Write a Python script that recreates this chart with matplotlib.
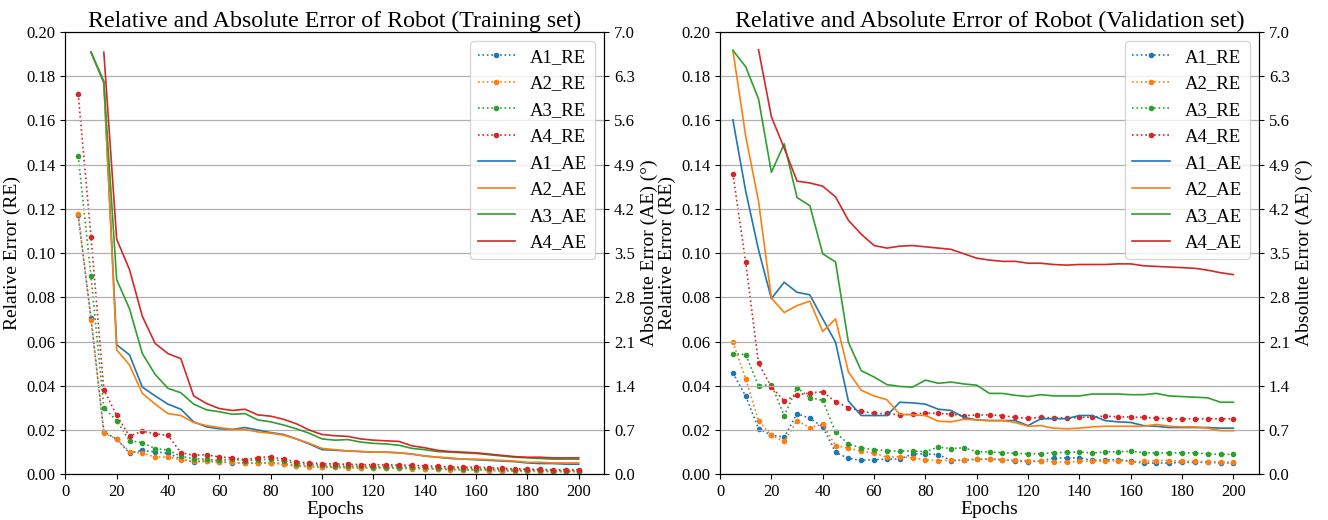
import numpy as np
import matplotlib
matplotlib.use("Agg")
import matplotlib.pyplot as plt

plt.rcParams['font.family'] = ['Liberation Serif', 'DejaVu Serif']

nan = np.nan
epochs = list(range(5, 201, 5))
names = ['A1', 'A2', 'A3', 'A4']
colors = ['#1f77b4', '#ff7f0e', '#2ca02c', '#d62728']

# ---- training set ----
train_re = {
    'A1': [0.1171, 0.0707, 0.0192, 0.0159, 0.0096, 0.0108, 0.0101, 0.0096, 0.0068, 0.0056,
           0.0059, 0.0056, 0.0052, 0.0051, 0.0050, 0.0052, 0.0048, 0.0038, 0.0037, 0.0033,
           0.0032, 0.0031, 0.0030, 0.0030, 0.0029, 0.0028, 0.0027, 0.0026, 0.0024, 0.0022,
           0.0021, 0.0020, 0.0019, 0.0017, 0.0016, 0.0015, 0.0015, 0.0014, 0.0014, 0.0014],
    'A2': [0.1178, 0.0699, 0.0188, 0.0159, 0.0102, 0.0096, 0.0078, 0.0078, 0.0066, 0.0060,
           0.0060, 0.0056, 0.0054, 0.0050, 0.0050, 0.0051, 0.0045, 0.0036, 0.0035, 0.0032,
           0.0031, 0.0030, 0.0029, 0.0029, 0.0028, 0.0027, 0.0026, 0.0025, 0.0023, 0.0021,
           0.0020, 0.0019, 0.0017, 0.0015, 0.0014, 0.0013, 0.0012, 0.0011, 0.0011, 0.0011],
    'A3': [0.1440, 0.0895, 0.0302, 0.0242, 0.0152, 0.0143, 0.0116, 0.0110, 0.0081, 0.0071,
           0.0068, 0.0063, 0.0068, 0.0062, 0.0066, 0.0068, 0.0060, 0.0048, 0.0045, 0.0040,
           0.0039, 0.0037, 0.0036, 0.0035, 0.0035, 0.0034, 0.0032, 0.0031, 0.0029, 0.0027,
           0.0026, 0.0025, 0.0024, 0.0022, 0.0020, 0.0019, 0.0018, 0.0017, 0.0017, 0.0017],
    'A4': [0.1720, 0.1075, 0.0383, 0.0266, 0.0173, 0.0195, 0.0183, 0.0176, 0.0098, 0.0086,
           0.0089, 0.0078, 0.0075, 0.0066, 0.0075, 0.0080, 0.0068, 0.0056, 0.0051, 0.0048,
           0.0047, 0.0045, 0.0044, 0.0043, 0.0043, 0.0042, 0.0040, 0.0039, 0.0036, 0.0033,
           0.0032, 0.0032, 0.0030, 0.0027, 0.0025, 0.0023, 0.0022, 0.0021, 0.0021, 0.0021],
}
train_ae = {
    'A1': [nan, 6.68, 6.22, 2.05, 1.89, 1.38, 1.24, 1.11, 1.03, 0.83,
           0.75, 0.72, 0.71, 0.74, 0.70, 0.66, 0.63, 0.56, 0.48, 0.39,
           0.38, 0.37, 0.36, 0.35, 0.35, 0.34, 0.32, 0.29, 0.27, 0.25,
           0.24, 0.23, 0.22, 0.21, 0.20, 0.18, 0.17, 0.17, 0.16, 0.16],
    'A2': [nan, 6.68, 6.19, 1.97, 1.73, 1.28, 1.11, 0.96, 0.93, 0.82,
           0.77, 0.74, 0.71, 0.71, 0.67, 0.65, 0.62, 0.56, 0.49, 0.41,
           0.39, 0.37, 0.36, 0.35, 0.35, 0.34, 0.32, 0.29, 0.27, 0.26,
           0.24, 0.24, 0.23, 0.22, 0.21, 0.19, 0.19, 0.18, 0.18, 0.18],
    'A3': [nan, 6.68, 6.20, 3.08, 2.62, 1.91, 1.58, 1.36, 1.29, 1.11,
           1.02, 0.99, 0.95, 0.96, 0.86, 0.83, 0.78, 0.72, 0.65, 0.56,
           0.54, 0.55, 0.51, 0.49, 0.48, 0.46, 0.41, 0.39, 0.36, 0.35,
           0.34, 0.33, 0.31, 0.29, 0.27, 0.26, 0.25, 0.24, 0.24, 0.24],
    'A4': [nan, nan, 6.68, 3.72, 3.24, 2.50, 2.07, 1.91, 1.83, 1.24,
           1.12, 1.04, 1.01, 1.03, 0.94, 0.92, 0.87, 0.80, 0.70, 0.63,
           0.61, 0.60, 0.56, 0.54, 0.53, 0.52, 0.45, 0.42, 0.38, 0.36,
           0.35, 0.34, 0.32, 0.30, 0.28, 0.27, 0.27, 0.26, 0.26, 0.26],
}

# ---- validation set ----
val_re = {
    'A1': [0.0459, 0.0353, 0.0206, 0.0177, 0.0168, 0.0274, 0.0253, 0.0215, 0.0099, 0.0072,
           0.0063, 0.0066, 0.0069, 0.0069, 0.0092, 0.0092, 0.0089, 0.0062, 0.0063, 0.0068,
           0.0068, 0.0066, 0.0060, 0.0057, 0.0060, 0.0074, 0.0074, 0.0074, 0.0063, 0.0065,
           0.0066, 0.0060, 0.0050, 0.0051, 0.0051, 0.0054, 0.0054, 0.0054, 0.0052, 0.0051],
    'A2': [0.0598, 0.0432, 0.0242, 0.0176, 0.0149, 0.0242, 0.0211, 0.0227, 0.0129, 0.0119,
           0.0104, 0.0096, 0.0077, 0.0080, 0.0075, 0.0065, 0.0062, 0.0063, 0.0066, 0.0069,
           0.0069, 0.0066, 0.0063, 0.0062, 0.0059, 0.0057, 0.0054, 0.0059, 0.0060, 0.0059,
           0.0062, 0.0057, 0.0059, 0.0062, 0.0062, 0.0060, 0.0059, 0.0056, 0.0056, 0.0054],
    'A3': [0.0546, 0.0541, 0.0400, 0.0406, 0.0265, 0.0392, 0.0346, 0.0335, 0.0189, 0.0137,
           0.0119, 0.0111, 0.0107, 0.0105, 0.0105, 0.0102, 0.0123, 0.0116, 0.0120, 0.0102,
           0.0101, 0.0098, 0.0095, 0.0093, 0.0093, 0.0098, 0.0099, 0.0101, 0.0096, 0.0101,
           0.0102, 0.0104, 0.0098, 0.0096, 0.0097, 0.0097, 0.0097, 0.0092, 0.0090, 0.0090],
    'A4': [0.1360, 0.0958, 0.0501, 0.0395, 0.0332, 0.0358, 0.0368, 0.0373, 0.0328, 0.0302,
           0.0286, 0.0275, 0.0275, 0.0268, 0.0272, 0.0277, 0.0275, 0.0272, 0.0265, 0.0268,
           0.0269, 0.0265, 0.0257, 0.0254, 0.0257, 0.0256, 0.0254, 0.0257, 0.0259, 0.0263,
           0.0260, 0.0259, 0.0257, 0.0254, 0.0251, 0.0251, 0.0251, 0.0251, 0.0251, 0.0251],
}
val_ae = {
    'A1': [5.61, 4.48, 3.55, 2.78, 3.04, 2.88, 2.84, 2.46, 2.09, 1.16,
           0.93, 0.93, 0.93, 1.14, 1.13, 1.11, 1.03, 1.01, 0.90, 0.86,
           0.85, 0.85, 0.85, 0.77, 0.88, 0.88, 0.88, 0.93, 0.93, 0.85,
           0.83, 0.82, 0.77, 0.76, 0.74, 0.74, 0.74, 0.74, 0.73, 0.73],
    'A2': [6.71, 5.35, 4.32, 2.79, 2.56, 2.67, 2.74, 2.26, 2.46, 1.62,
           1.33, 1.24, 1.18, 0.95, 0.94, 0.93, 0.84, 0.83, 0.87, 0.86,
           0.85, 0.85, 0.82, 0.76, 0.77, 0.73, 0.72, 0.73, 0.75, 0.76,
           0.76, 0.76, 0.76, 0.79, 0.76, 0.75, 0.75, 0.73, 0.69, 0.69],
    'A3': [6.71, 6.45, 5.94, 4.78, 5.23, 4.38, 4.25, 3.49, 3.36, 2.09,
           1.64, 1.54, 1.42, 1.39, 1.38, 1.49, 1.44, 1.46, 1.43, 1.41,
           1.28, 1.28, 1.25, 1.23, 1.26, 1.24, 1.24, 1.24, 1.27, 1.27,
           1.27, 1.26, 1.26, 1.28, 1.24, 1.23, 1.22, 1.21, 1.14, 1.14],
    'A4': [nan, nan, 6.72, 5.66, 5.16, 4.64, 4.61, 4.56, 4.39, 4.02,
           3.80, 3.62, 3.58, 3.61, 3.62, 3.60, 3.58, 3.56, 3.49, 3.42,
           3.39, 3.37, 3.37, 3.34, 3.34, 3.32, 3.31, 3.32, 3.32, 3.32,
           3.33, 3.33, 3.30, 3.29, 3.28, 3.27, 3.26, 3.23, 3.19, 3.16],
}

re_ticks = np.arange(0, 0.2001, 0.02)
ae_ticks = np.arange(0, 7.001, 0.7)

fig = plt.figure(figsize=(13.28, 5.2), dpi=100)


def draw_panel(rect, re_data, ae_data, title):
    ax = fig.add_axes(rect)
    ax2 = ax.twinx()
    handles = []
    for n, c in zip(names, colors):
        h, = ax.plot(epochs, re_data[n], ':', color=c, marker='o', markersize=3,
                     linewidth=1.2, label=n + '_RE')
        handles.append(h)
    for n, c in zip(names, colors):
        h, = ax2.plot(epochs, ae_data[n], '-', color=c, linewidth=1.2, label=n + '_AE')
        handles.append(h)

    ax.set_xlim(0, 210)
    ax.set_ylim(0, 0.2)
    ax2.set_ylim(0, 7.0)
    ax.set_xticks(range(0, 201, 20))
    ax.set_yticks(re_ticks)
    ax2.set_yticks(ae_ticks)
    ax.set_yticklabels(['%.2f' % t for t in re_ticks])
    ax2.set_yticklabels(['%.1f' % t for t in ae_ticks])
    ax.tick_params(labelsize=12)
    ax2.tick_params(labelsize=12)
    ax2.grid(axis='y', color='#b0b0b0', linewidth=0.9)

    ax.set_xlabel('Epochs', fontsize=14, labelpad=1)
    ax.set_ylabel('Relative Error (RE)', fontsize=14)
    ax2.set_ylabel('Absolute Error (AE) (°)', fontsize=14)
    ax.set_title(title, fontsize=17.2, pad=3)
    ax2.legend(handles=handles, loc='upper right', fontsize=13.5)


draw_panel([0.0492, 0.0879, 0.4059, 0.8506], train_re, train_ae,
           'Relative and Absolute Error of Robot (Training set)')
draw_panel([0.5422, 0.0879, 0.4059, 0.8506], val_re, val_ae,
           'Relative and Absolute Error of Robot (Validation set)')

fig.savefig('out.png', dpi=100)
